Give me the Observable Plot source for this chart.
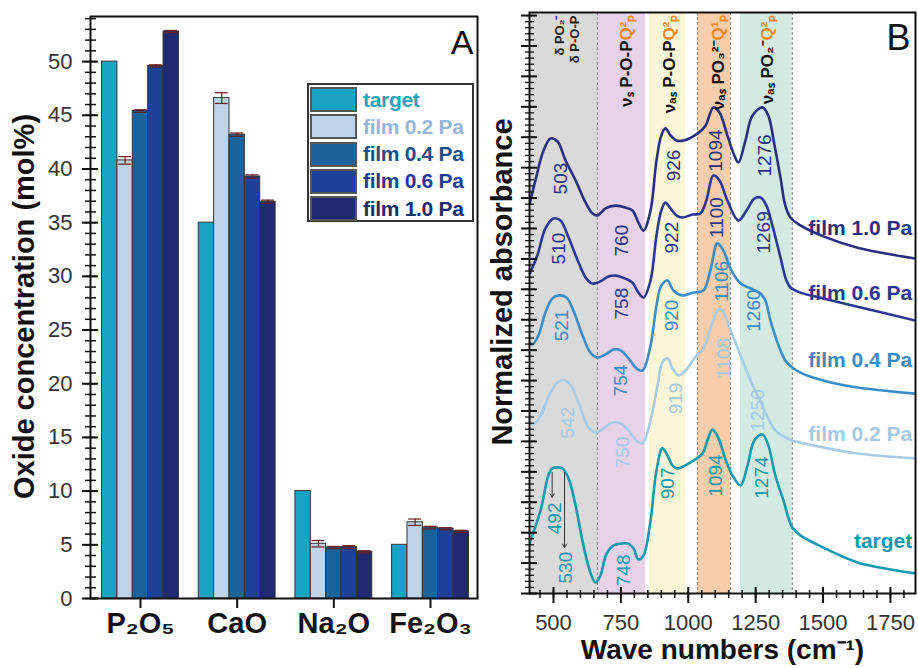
<!DOCTYPE html>
<html>
<head>
<meta charset="utf-8">
<script src="https://cdn.jsdelivr.net/npm/d3@7"></script>
<script src="https://cdn.jsdelivr.net/npm/@observablehq/plot@0.6"></script>
<style>
  body { margin: 0; background: #fff; }
  #wrap { position: relative; width: 918px; height: 668px; overflow: hidden; font-family: "Liberation Sans", Arial, sans-serif; }
  #panelA, #panelB { position: absolute; top: 0; }
  #panelA { left: 0; }
  #panelB { left: 480px; }
  #legend { position: absolute; left: 307px; top: 83px; width: 163px; height: 135px; border: 2px solid #333; background: #fff; }
  .row { position: absolute; left: 1px; height: 25px; display: flex; align-items: center; white-space: nowrap; }
  .sw { width: 47px; height: 25px; border: 2px solid #555; box-sizing: border-box; }
  .lab { margin-left: 6px; font-weight: bold; font-size: 21px; letter-spacing: -0.3px; }
</style>
</head>
<body>
<div id="wrap">
  <div id="panelA"></div>
  <div id="legend"></div>
  <div id="panelB"></div>
</div>
<script>
// ---------------- Panel A data ----------------
const categories = ["P₂O₅", "CaO", "Na₂O", "Fe₂O₃"];
const seriesNames = ["target", "film 0.2 Pa", "film 0.4 Pa", "film 0.6 Pa", "film 1.0 Pa"];
const targetVals = [50.0, 35.0, 10.0, 5.0];
const film02Vals = [40.8, 46.6, 5.1, 7.1];
const film04Vals = [45.4, 43.2, 4.75, 6.6];
const film06Vals = [49.6, 39.3, 4.8, 6.5];
const film10Vals = [52.8, 36.95, 4.35, 6.25];
const film02Err = [0.35, 0.5, 0.3, 0.3];
const film04Err = [0.12, 0.15, 0.1, 0.12];
const film06Err = [0.1, 0.15, 0.12, 0.1];
const film10Err = [0.1, 0.15, 0.1, 0.1];
const barColors = ["#19a3c3", "#bdd3ea", "#1a6399", "#1c419b", "#1f2a70"];
const legendTextColors = ["#2aa0bb", "#95b6d7", "#1c4f88", "#233a93", "#1f2a6c"];
const yTicksA = [0, 5, 10, 15, 20, 25, 30, 35, 40, 45, 50];
const yMinorA = d3.range(0, 55, 1);

// ---------------- Panel B data ----------------
const specTarget = [[411,1.65],[452,2.73],[481,3.88],[496,4.11],[533,4.11],[556,3.78],[582,2.89],[611,1.58],[637,0.69],[656,0.36],[674,0.59],[697,1.31],[723,1.58],[749,1.64],[778,1.64],[797,1.48],[815,1.12],[834,1.25],[860,2.40],[882,4.04],[904,4.77],[923,4.54],[941,4.21],[960,4.11],[1008,4.31],[1053,4.60],[1071,5.03],[1090,5.39],[1112,5.10],[1142,4.31],[1171,3.78],[1194,3.55],[1220,4.21],[1245,5.03],[1275,5.23],[1297,4.87],[1323,3.88],[1353,3.06],[1386,2.17],[1416,1.91],[1501,1.51],[1628,1.02],[1750,0.79],[1843,0.66]];
const specFilm02 = [[411,5.62],[426,5.56],[452,5.85],[489,6.61],[519,6.97],[545,7.00],[571,6.74],[600,6.08],[630,5.46],[656,5.29],[685,5.42],[719,5.62],[749,5.59],[778,5.36],[808,5.03],[830,4.93],[860,5.69],[886,6.84],[904,7.59],[923,7.73],[941,7.40],[964,7.17],[990,7.33],[1030,7.82],[1056,8.05],[1086,8.81],[1112,9.34],[1127,9.30],[1157,8.65],[1194,7.82],[1231,7.00],[1257,6.51],[1286,5.95],[1323,5.36],[1360,5.13],[1386,5.03],[1501,4.80],[1628,4.60],[1843,4.44]];
const specFilm04 = [[411,8.25],[422,8.19],[444,8.48],[470,9.24],[496,9.70],[519,9.80],[548,9.73],[574,9.30],[608,8.48],[637,7.92],[663,7.76],[693,7.86],[723,8.02],[749,7.99],[778,7.73],[808,7.40],[830,7.33],[860,8.15],[882,9.47],[900,10.13],[923,10.29],[945,9.96],[978,9.80],[1016,9.89],[1056,9.96],[1082,10.62],[1108,11.51],[1130,11.28],[1160,10.62],[1194,10.19],[1231,10.03],[1268,9.86],[1286,9.63],[1305,8.97],[1335,8.15],[1360,7.66],[1386,7.43],[1416,7.26],[1501,7.00],[1628,6.77],[1843,6.57]];
const specFilm06 = [[411,10.5],[440,11.11],[470,12.00],[500,12.33],[526,12.26],[556,11.70],[593,10.88],[622,10.35],[645,10.19],[674,10.26],[704,10.42],[730,10.45],[767,10.35],[793,10.22],[815,9.89],[834,9.73],[860,10.29],[882,11.77],[900,12.59],[915,12.85],[934,12.66],[956,12.43],[978,12.36],[1016,12.46],[1045,12.49],[1067,12.92],[1093,13.74],[1116,13.58],[1145,12.92],[1186,12.26],[1216,12.59],[1245,12.98],[1268,13.02],[1290,12.75],[1312,12.10],[1342,11.05],[1364,10.29],[1379,10.06],[1416,9.89],[1501,9.70],[1628,9.43],[1843,8.97]];
const specFilm10 = [[411,12.80],[433,13.58],[463,14.56],[489,14.96],[515,14.86],[545,14.23],[582,13.58],[619,12.85],[645,12.49],[663,12.43],[693,12.66],[730,12.75],[767,12.69],[793,12.59],[815,12.20],[834,11.93],[860,12.59],[882,14.23],[900,15.06],[915,15.29],[934,15.06],[956,14.89],[982,14.89],[1034,15.12],[1064,15.38],[1093,15.98],[1116,15.81],[1145,15.06],[1171,14.40],[1186,14.17],[1212,14.89],[1238,15.71],[1275,15.98],[1297,15.71],[1320,14.73],[1342,13.68],[1360,12.75],[1379,12.36],[1416,12.10],[1501,11.74],[1628,11.37],[1843,11.01]];
const lineColors = ["#139aae", "#a9cbe5", "#3a8dc8", "#2b3792", "#292f7e"];

const peaksTarget = [["492",507,2.47],["530",545,0.85],["748",760,0.76],["907",923,3.62],["1094",1101,3.88],["1274",1275,3.81]];
const peaksFilm02 = [["542",552,5.62],["750",756,4.64],["919",953,6.41],["1108",1131,7.73],["1250",1260,6.02]];
const peaksFilm04 = [["521",533,8.81],["754",749,7.00],["920",941,9.14],["1106",1123,10.26],["1260",1245,9.30]];
const peaksFilm06 = [["510",519,11.34],["758",752,9.53],["922",941,11.70],["1100",1105,12.36],["1269",1279,11.87]];
const peaksFilm10 = [["503",526,13.64],["760",752,11.60],["926",945,14.07],["1094",1101,14.56],["1276",1286,14.40]];
const curveLabelY = [1.71, 5.23, 7.66, 9.86, 12.0];

const bandX1 = [411, 663, 856, 1034, 1194];
const bandX2 = [663, 841, 990, 1157, 1386];
const bandColors = ["#dadada", "#e7d2e9", "#fcf6d8", "#f7cdab", "#d2eae2"];
const dashedAt = [663, 1034, 1157, 1386];
const assignBlack = ["νₛ P-O-P", "νₐₛ P-O-P", "νₐₛ PO₃²⁻", "νₐₛ PO₂⁻"];
const assignQ = ["Q²ₚ", "Q²ₚ", "Q¹ₚ", "Q²ₚ"];
const assignX = [771, 930, 1112, 1294];
const assignGray = ["δ PO₂⁻", "δ P-O-P"];
const assignGrayX = [522, 578];
const xTicksB = [500, 750, 1000, 1250, 1500, 1750];
const xMinorB = d3.range(450, 1850, 50);
const yMajorB = d3.range(0, 19.1, 1);
const yMinorB = d3.range(0, 19.1, 0.2);

const FONT = '"Liberation Sans", Arial, sans-serif';

// ---------------- Panel A ----------------
const bw = 0.159;
const bars = [];
const valsBySeries = [targetVals, film02Vals, film04Vals, film06Vals, film10Vals];
const errBySeries = [null, film02Err, film04Err, film06Err, film10Err];
categories.forEach((c, i) => {
  seriesNames.forEach((s, j) => {
    const xc = i + (j - 2) * bw;
    bars.push({cat: c, series: s, x1: xc - bw / 2, x2: xc + bw / 2, xc, value: valsBySeries[j][i], err: errBySeries[j] ? errBySeries[j][i] : 0});
  });
});
const errs = bars.filter(d => d.err > 0);

const frameWA = 480 - 90 - 3;
const frameHA = 668 - 16 - 70;

const plotA = Plot.plot({
  width: 480, height: 668,
  marginLeft: 90, marginRight: 3, marginTop: 16, marginBottom: 70,
  x: {domain: [-0.517, 3.486], axis: null},
  y: {domain: [0, 54.2], axis: null},
  color: {domain: seriesNames, range: barColors},
  style: {fontFamily: FONT, background: "transparent", overflow: "visible"},
  marks: [
    Plot.rectY(bars, {x1: "x1", x2: "x2", y1: 0, y2: "value", fill: "series", stroke: "#333", strokeWidth: 1}),
    Plot.ruleX(errs, {x: "xc", y1: d => d.value - d.err, y2: d => d.value + d.err, stroke: "#6b1f1f", strokeWidth: 1.2}),
    Plot.ruleY(errs, {y: d => d.value + d.err, x1: d => d.xc - bw * 0.42, x2: d => d.xc + bw * 0.42, stroke: "#6b1f1f", strokeWidth: 1.2}),
    Plot.ruleY(errs, {y: d => d.value - d.err, x1: d => d.xc - bw * 0.42, x2: d => d.xc + bw * 0.42, stroke: "#6b1f1f", strokeWidth: 1.2}),
    Plot.frame({stroke: "#111", strokeWidth: 2}),
    Plot.ruleY(yMinorA, {y: d => d, insetRight: frameWA - 11, dx: -5, stroke: "#111", strokeWidth: 1.5}),
    Plot.ruleY(yTicksA, {y: d => d, insetRight: frameWA - 16, dx: -8, stroke: "#111", strokeWidth: 2}),
    Plot.text(yTicksA, {y: d => d, text: d => String(d), frameAnchor: "left", textAnchor: "end", lineAnchor: "middle", dx: -18, fontSize: 22, fill: "#333"}),
    Plot.ruleX(categories.map((c, i) => i), {x: d => d, insetTop: frameHA - 10, dy: 10, stroke: "#111", strokeWidth: 2}),
    Plot.text(categories.map((c, i) => i), {x: d => d, text: d => categories[d], frameAnchor: "bottom", textAnchor: "middle", lineAnchor: "middle", dy: 25, fontSize: 29, fontWeight: "bold", fill: "#111"}),
    Plot.text(["Oxide concentration (mol%)"], {frameAnchor: "left", textAnchor: "middle", lineAnchor: "middle", rotate: -90, dx: -66, dy: -1, fontSize: 29, fontWeight: "bold", fill: "#111"}),
    Plot.text(["A"], {frameAnchor: "top-right", textAnchor: "end", lineAnchor: "middle", dx: -4, dy: 27, fontSize: 34, fill: "#111"})
  ]
});
document.getElementById("panelA").appendChild(plotA);

// Legend
const legend = document.getElementById("legend");
seriesNames.forEach((s, j) => {
  const row = document.createElement("div");
  row.className = "row";
  row.style.top = (2 + j * 27.3) + "px";
  const sw = document.createElement("div");
  sw.className = "sw";
  sw.style.background = barColors[j];
  const lab = document.createElement("span");
  lab.className = "lab";
  lab.style.color = legendTextColors[j];
  lab.textContent = s;
  row.appendChild(sw); row.appendChild(lab);
  legend.appendChild(row);
});

// ---------------- Panel B ----------------
const frameWB = 438 - 49 - 3;
const frameHB = 668 - 12 - 75;
const spectra = [specTarget, specFilm02, specFilm04, specFilm06, specFilm10];
const peakSets = [peaksTarget, peaksFilm02, peaksFilm04, peaksFilm06, peaksFilm10];
const bands = bandX1.map((x1, i) => ({x1, x2: bandX2[i], color: bandColors[i]}));

const marksB = [];
bands.forEach(b => marksB.push(Plot.rect([b], {x1: "x1", x2: "x2", y1: 0, y2: 19.1, fill: b.color})));
marksB.push(Plot.ruleX(dashedAt, {x: d => d, stroke: "#8a8a8a", strokeWidth: 1, strokeDasharray: "3,2"}));
spectra.forEach((sp, k) => {
  marksB.push(Plot.line(sp, {x: d => d[0], y: d => d[1], stroke: lineColors[k], strokeWidth: 2.6, curve: "catmull-rom", clip: true}));
});
const peakTextColors = ["#1597ab", "#a5c9e3", "#3a8bc6", "#2b378f", "#28307f"];
peakSets.forEach((ps, k) => {
  marksB.push(Plot.text(ps, {x: d => d[1], y: d => d[2], text: d => d[0], rotate: -90, fontSize: 19, fill: peakTextColors[k]}));
});
marksB.push(Plot.arrow([{x1: 495, y1: 3.98, x2: 495, y2: 3.16}, {x1: 541, y1: 3.98, x2: 541, y2: 1.51}],
  {x1: "x1", y1: "y1", x2: "x2", y2: "y2", stroke: "#333", strokeWidth: 1, headLength: 6}));
// curve names on the right
marksB.push(Plot.text(seriesNames, {x: 1831, y: (d, i) => curveLabelY[i], text: d => d, textAnchor: "end", fontSize: 21, fontWeight: "bold", fill: (d, i) => peakTextColors[i]}));
// band assignments
marksB.push(Plot.text(assignGray, {x: (d, i) => assignGrayX[i], y: 19.0, text: d => d, rotate: -90, textAnchor: "end", fontSize: 13, fontWeight: "bold", fill: "#222"}));
marksB.push(Plot.text(assignBlack, {x: (d, i) => assignX[i], y: 18.18, text: d => d, rotate: -90, textAnchor: "end", fontSize: 17, fontWeight: "bold", fill: "#111"}));
marksB.push(Plot.text(assignQ, {x: (d, i) => assignX[i], y: 18.18, text: d => d, rotate: -90, textAnchor: "start", fontSize: 17, fontWeight: "bold", fill: "#f08a25"}));
marksB.push(Plot.frame({stroke: "#111", strokeWidth: 2}));
// ticks
marksB.push(Plot.ruleY(yMinorB, {y: d => d, insetRight: frameWB - 9, dx: -4, stroke: "#111", strokeWidth: 1.3}));
marksB.push(Plot.ruleY(yMajorB, {y: d => d, insetRight: frameWB - 16, dx: -8, stroke: "#111", strokeWidth: 2}));
marksB.push(Plot.ruleX(xMinorB, {x: d => d, insetTop: frameHB - 8, dy: 5, stroke: "#111", strokeWidth: 1.5}));
marksB.push(Plot.ruleX(xTicksB, {x: d => d, insetTop: frameHB - 16, dy: 10, stroke: "#111", strokeWidth: 2}));
marksB.push(Plot.text(xTicksB, {x: d => d, text: d => String(d), frameAnchor: "bottom", textAnchor: "middle", lineAnchor: "middle", dy: 29, fontSize: 22, fill: "#333"}));
marksB.push(Plot.text(["Wave numbers (cm⁻¹)"], {frameAnchor: "bottom", textAnchor: "middle", lineAnchor: "middle", dy: 57, fontSize: 28, fontWeight: "bold", fill: "#111"}));
marksB.push(Plot.text(["Normalized absorbance"], {frameAnchor: "left", textAnchor: "middle", lineAnchor: "middle", rotate: -90, dx: -27, dy: -21, fontSize: 29, fontWeight: "bold", fill: "#111"}));
marksB.push(Plot.text(["B"], {frameAnchor: "top-right", textAnchor: "end", lineAnchor: "middle", dx: -5, dy: 26, fontSize: 36, fill: "#111"}));

const plotB = Plot.plot({
  width: 438, height: 668,
  marginLeft: 49, marginRight: 3, marginTop: 12, marginBottom: 75,
  x: {domain: [411, 1843], axis: null},
  y: {domain: [0, 19.1], axis: null},
  style: {fontFamily: FONT, background: "transparent", overflow: "visible"},
  marks: marksB
});
document.getElementById("panelB").appendChild(plotB);
</script>
</body>
</html>
